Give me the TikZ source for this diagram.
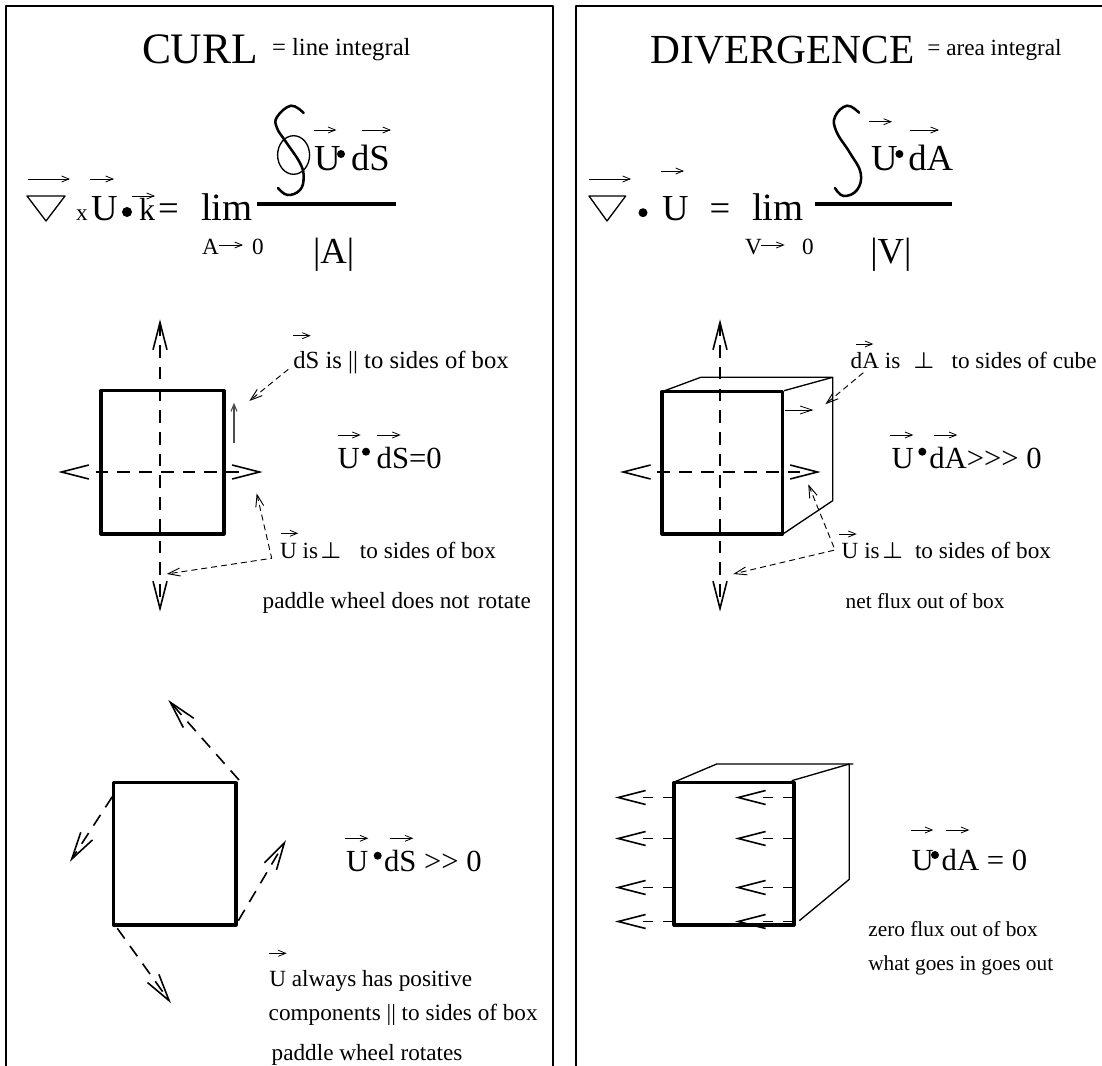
\documentclass[tikz,border=0pt]{standalone}
\usepackage{fontspec}
\setmainfont{Liberation Serif}
\usetikzlibrary{arrows.meta}
\begin{document}
\begin{tikzpicture}[x=0.75pt, y=-0.75pt, line join=round,
	>={Straight Barb[length=20.5pt,width=10.5pt]},
	txt/.style={anchor=base west, inner sep=0pt, outer sep=0pt},
	bigtxt/.style={txt, font=\fontsize{31}{36}\selectfont},
	eqtxt/.style={txt, font=\fontsize{27.5}{30}\selectfont},
	midtxt/.style={txt, font=\fontsize{23}{26}\selectfont},
	smalltxt/.style={txt, font=\fontsize{17.4}{20}\selectfont},
	widetxt/.style={txt, font=\fontsize{18.5}{20}\selectfont},
	tinytxt/.style={txt, font=\fontsize{16}{20}\selectfont},
	frame/.style={line width=0.8pt},
	boxline/.style={line width=2.4pt},
	cubeline/.style={line width=1pt},
	flow/.style={line width=1.2pt, dash pattern=on 9.5pt off 6.8pt},
	haxis/.style={line width=1.2pt, dash pattern=on 0pt off 25pt on 9.5pt off 6.8pt on 9.5pt off 6.8pt on 9.5pt off 6.8pt on 9.5pt off 6.8pt on 9.5pt off 6.8pt on 9.5pt off 6.8pt on 9.5pt off 40pt},
	fluxflow/.style={line width=1.2pt, dash pattern=on 7.5pt off 7.5pt on 7.5pt off 40pt},
	pointer/.style={line width=0.7pt, dash pattern=on 4.5pt off 3pt, >={Straight Barb[length=9pt,width=6pt]}},
	vec/.style={line width=0.6pt, ->, >={Straight Barb[length=5.5pt,width=4.5pt]}},
	intsign/.style={line width=1.9pt, line cap=round}]
	\useasboundingbox (0,0) rectangle (1102,1066);
	% frames
	\draw[frame] (6,1066) -- (6,6) -- (553,6) -- (553,1066);
	\draw[frame] (576,1066) -- (576,6) -- (1102,6);

	% curl heading
	\node[bigtxt, font=\fontsize{32.6}{36}\selectfont] (curl) at (142,64) {CURL};
	\node[widetxt] (lineint) at (272,56) {= line integral};
	\coordinate (N1) at (27,196);
	\coordinate (N2) at (65,196);
	\coordinate (N3) at (46,221);
	\draw[cubeline] (N1) -- (N2) -- (N3) -- cycle;
	\draw[vec] (28,179) -- (70,179);
	\node[smalltxt] (crossx) at (76,221) {x};
	\node[eqtxt] (curlU) at (91,221) {U};
	\draw[vec] (90,179) -- (114,179);
	\fill (127,212) circle[radius=5];
	\node[eqtxt, font=\fontsize{24}{26}\selectfont] (curlk) at (139,221) {k};
	\draw[vec] (132,196) -- (155,196);
	\node[eqtxt] (curleq) at (158,221) {=};
	\node[eqtxt, font=\fontsize{29}{30}\selectfont] (curllim) at (201,221) {lim};
	\draw[line width=2.6pt] (257,204) -- (396,204);
	\node[smalltxt] (limA) at (202,254) {A};
	\draw[vec] (219,245) -- (243,245);
	\node[smalltxt] (limAzero) at (252,254) {0};
	\node[eqtxt] (normA) at (313,263) {|A|};
	\draw[intsign] plot[smooth, tension=0.7] coordinates {(303.6,113) (291,105.7) (277,117) (277,128) (286,142) (300,163) (303.6,177) (300,190) (287.5,195) (278,188)};
	\draw[cubeline] (293.6,155) circle[x radius=16, y radius=19.3];
	\node[eqtxt] (numU) at (314,171) {U};
	\draw[vec] (313.6,130) -- (336.4,130);
	\fill (341,154) circle[radius=4];
	\node[eqtxt] (numdS) at (351,171) {dS};
	\draw[vec] (362,130) -- (391,130);

	% divergence heading
	\node[bigtxt] (div) at (650.6,64) {DIVERGENCE};
	\node[smalltxt] (areaint) at (927.4,56) {= area integral};
	\coordinate (M1) at (589,196);
	\coordinate (M2) at (625.7,196);
	\coordinate (M3) at (607,221);
	\draw[cubeline] (M1) -- (M2) -- (M3) -- cycle;
	\draw[vec] (589.4,179) -- (631,179);
	\fill (643,212.7) circle[radius=4.5];
	\node[eqtxt] (divU) at (662,221) {U};
	\draw[vec] (661,171) -- (684,171);
	\node[eqtxt] (diveq) at (709.7,221) {=};
	\node[eqtxt, font=\fontsize{29}{30}\selectfont] (divlim) at (752,221) {lim};
	\draw[line width=2.6pt] (815,204) -- (951.6,204);
	\node[smalltxt] (limV) at (745,254) {V};
	\draw[vec] (761,245) -- (784.7,245);
	\node[smalltxt] (limVzero) at (802,254) {0};
	\node[eqtxt] (normV) at (870.4,263) {|V|};
	\draw[intsign] plot[smooth, tension=0.7] coordinates {(859,112.7) (847,105.7) (835,116.7) (836.5,131.7) (850,153) (860.7,173) (857,190) (843.5,196) (835,188)};
	\node[eqtxt] (numU2) at (871,171) {U};
	\draw[vec] (868.7,121.7) -- (892,121.7);
	\fill (899.4,154) circle[radius=4];
	\node[eqtxt] (numdA) at (908.4,171) {dA};
	\draw[vec] (910,130) -- (939,130);

	% curl, upper box
	\coordinate (A) at (101,390.7);
	\coordinate (B) at (224,534);
	\draw[boxline] (A) rectangle (B);
	\draw[flow, <->] (160,319.3) -- (160,611.7);
	\draw[haxis, <->] (58.3,472) -- (262.7,472);
	\draw[vec, black!70, line width=0.8pt] (234,442.7) -- (234,402.7);
	\node[widetxt] (dSis) at (293.3,368.3) {dS is || to sides of box};
	\draw[vec] (293.3,335.7) -- (310.7,335.7);
	\draw[pointer, ->] (288.3,369.3) -- (249.3,401);
	\node[midtxt] (UdSzero) at (337.7,468.3) {U};
	\fill (366,451.7) circle[radius=4];
	\node[midtxt] (UdSzero2) at (376.7,468.3) {dS=0};
	\draw[vec] (337.7,435) -- (360.7,435);
	\draw[vec] (377.3,435) -- (400.7,435);
	\coordinate (P) at (271.7,558.3);
	\draw[pointer, <->] (256.7,493.3) -- (P) -- (166.7,574);
	\node[smalltxt] (Uis) at (280,558.3) {U is\hspace{2pt}{\boldmath$\perp$}\hspace{14pt}to sides of box};
	\draw[vec] (280.7,533.3) -- (298.3,533.3);
	\node[smalltxt] (norotate) at (262.7,608.3) {paddle wheel does not\hspace{2pt} rotate};

	% divergence, upper cube
	\coordinate (C) at (662,391.7);
	\coordinate (D) at (782.7,534);
	\draw[boxline] (C) rectangle (D);
	\coordinate (C1) at (700.7,377.3);
	\coordinate (C2) at (832.7,377.3);
	\coordinate (C3) at (832.7,500.7);
	\draw[cubeline] (C) -- (C1) -- (C2) -- (784,390.7);
	\draw[cubeline] (C2) -- (C3) -- (784,533.3);
	\draw[flow, <->] (720,319.3) -- (720,611.7);
	\draw[haxis, <->] (620,472) -- (820.7,472);
	\draw[vec, ->, >={Straight Barb[length=9pt,width=6pt]}] (785,410) -- (813.3,410);
	\node[smalltxt] (dAis) at (850.7,368.3) {dA is\hspace{10pt}{\boldmath$\perp$}\hspace{13pt}to sides of cube};
	\draw[vec] (856,344) -- (873.3,344);
	\draw[pointer, ->] (863.3,372.7) -- (825.3,404.3);
	\node[midtxt] (UdA) at (891.7,468.3) {U};
	\fill (922.3,451.7) circle[radius=4];
	\node[midtxt] (UdA2) at (929.3,468.3) {dA>{}>{}> 0};
	\draw[vec] (890,435) -- (913.3,435);
	\draw[vec] (934,435) -- (957.3,435);
	\coordinate (Q) at (835,550);
	\draw[pointer, <->] (808.3,484.3) -- (Q) -- (733.3,574);
	\node[smalltxt] (Uis2) at (841.7,558.3) {U is\hspace{2pt}{\boldmath$\perp$}\hspace{9pt}to sides of box};
	\draw[vec] (839,534) -- (856.7,534);
	\node[tinytxt] (netflux) at (845.7,608.3) {net flux out of box};

	% curl, lower box
	\coordinate (E) at (113.3,782.7);
	\coordinate (F) at (236,925);
	\draw[boxline] (E) rectangle (F);
	\draw[flow, ->] (239,780) -- (168.3,700);
	\draw[flow, ->] (112.3,796.7) -- (70,861.7);
	\draw[flow, ->] (238.3,920.7) -- (286,840);
	\draw[flow, ->] (117.3,928.3) -- (171,1003.3);
	\node[midtxt] (UdSgt) at (346,871) {U};
	\fill (377.7,855.7) circle[radius=4];
	\node[midtxt] (UdSgt2) at (384,871) {dS >{}> 0};
	\draw[vec] (345,838.3) -- (368.3,838.3);
	\draw[vec] (390,838.3) -- (413.3,838.3);
	\draw[vec] (269.3,953.3) -- (286.7,953.3);
	\node[smalltxt] (always) at (269.3,986.7) {U always has positive};
	\node[smalltxt] (comps) at (268.7,1020.7) {components || to sides of box};
	\node[smalltxt] (rotates) at (271.7,1060.7) {paddle wheel rotates};

	% divergence, lower cube
	\coordinate (G) at (674,782.3);
	\coordinate (H) at (794,925);
	\draw[boxline] (G) rectangle (H);
	\coordinate (G1) at (716.7,764);
	\coordinate (G2) at (853.3,764);
	\coordinate (G3) at (849.3,764);
	\coordinate (G4) at (849.3,879.3);
	\draw[cubeline] (675,781.7) -- (G1) -- (G2);
	\draw[cubeline] (791.7,780.7) -- (G3) -- (G4) -- (799.3,920.7);
	\foreach \yy in {797.5,838.5,887.5,921.5} {
		\draw[fluxflow, ->] (672.7,\yy) -- (615,\yy);
		\draw[fluxflow, ->] (792.7,\yy) -- (735,\yy);
	}
	\node[midtxt] (UdAzero) at (911.7,870.7) {U};
	\fill (935,855) circle[radius=4];
	\node[midtxt] (UdAzero2) at (941.7,870.7) {dA = 0};
	\draw[vec] (910.7,830) -- (933.3,830);
	\draw[vec] (946,830) -- (969.3,830);
	\node[tinytxt] (zeroflux) at (868.3,936.7) {zero flux out of box};
	\node[tinytxt] (goesout) at (868.3,970) {what goes in goes out};
\end{tikzpicture}
\end{document}
